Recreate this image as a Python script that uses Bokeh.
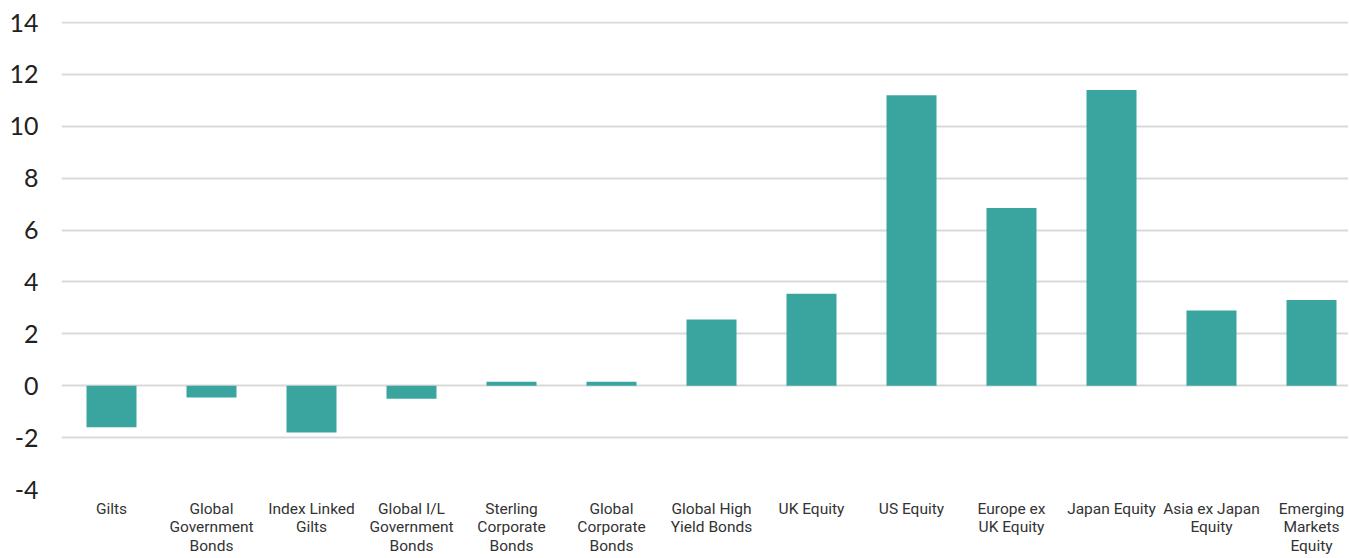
from bokeh.plotting import figure
from bokeh.models import FixedTicker, Range1d
from bokeh.embed import file_html
from bokeh.resources import INLINE

categories = ["Gilts", "Global\nGovernment\nBonds", "Index Linked\nGilts",
              "Global I/L\nGovernment\nBonds", "Sterling\nCorporate\nBonds",
              "Global\nCorporate\nBonds", "Global High\nYield Bonds", "UK Equity",
              "US Equity", "Europe ex\nUK Equity", "Japan Equity",
              "Asia ex Japan\nEquity", "Emerging\nMarkets\nEquity"]
values = [-1.6, -0.45, -1.8, -0.5, 0.15, 0.15, 2.55, 3.55, 11.2, 6.85, 11.4, 2.9, 3.3]
y_ticks = [-4, -2, 0, 2, 4, 6, 8, 10, 12, 14]

idx = list(range(len(categories)))

p = figure(width=1348, height=558, output_backend="svg", toolbar_location=None,
           x_range=Range1d(-0.5, 12.37), y_range=Range1d(-4, 14.04),
           min_border_left=61, min_border_right=0, min_border_top=21, min_border_bottom=0)
p.outline_line_color = None
p.background_fill_color = "white"
p.border_fill_color = "white"

p.vbar(x=idx, top=values, bottom=0, width=0.5, color="#3aa59f", line_color=None)

p.xgrid.grid_line_color = None
p.ygrid.ticker = FixedTicker(ticks=y_ticks)
p.ygrid.grid_line_color = "#d9d9d9"
p.ygrid.grid_line_width = 2

p.yaxis.ticker = FixedTicker(ticks=y_ticks)
p.yaxis.major_label_overrides = {t: str(t) for t in y_ticks}
p.yaxis.axis_line_color = None
p.yaxis.major_tick_line_color = None
p.yaxis.minor_tick_line_color = None
p.yaxis.major_label_text_font = "Lato"
p.yaxis.major_label_text_font_size = "25px"
p.yaxis.major_label_text_color = "#222222"
p.yaxis.major_label_standoff = 17

p.xaxis.ticker = FixedTicker(ticks=idx)
p.xaxis.major_label_overrides = {i: c for i, c in zip(idx, categories)}
p.xaxis.axis_line_color = None
p.xaxis.major_tick_line_color = None
p.xaxis.minor_tick_line_color = None
p.xaxis.major_label_text_font = "Roboto"
p.xaxis.major_label_text_font_size = "15.5px"
p.xaxis.major_label_text_line_height = 1.05
p.xaxis.major_label_text_color = "#333333"
p.xaxis.major_label_standoff = 4

open("out.html", "w").write(file_html(p, INLINE))
